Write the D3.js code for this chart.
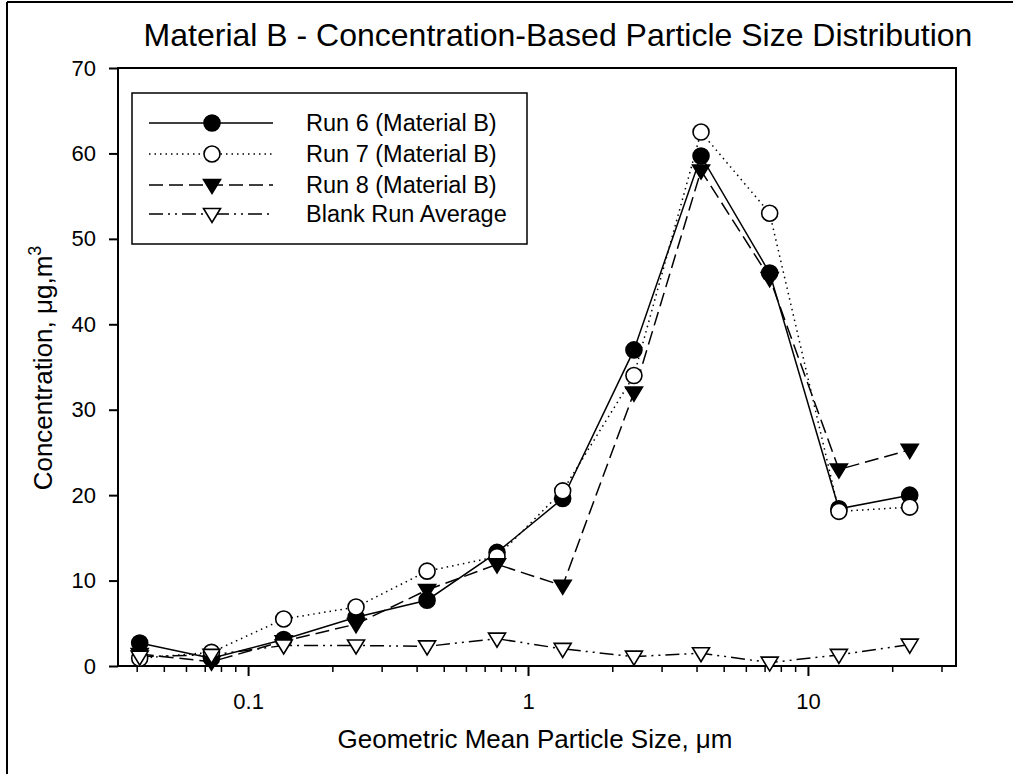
<!DOCTYPE html>
<html><head><meta charset="utf-8">
<script src="https://cdn.jsdelivr.net/npm/d3@7"></script>
<style>body{margin:0;background:#fff}svg{display:block}text{font-family:"Liberation Sans",Arial,sans-serif;fill:#000}</style>
</head><body>
<svg id="c" width="1013" height="774"></svg>
<script>
const sizes = [0.041, 0.074, 0.134, 0.243, 0.436, 0.775, 1.33, 2.39, 4.15, 7.3, 12.9, 23.1];
const run6  = [2.7, 0.9, 3.1, 5.7, 7.7, 13.3, 19.6, 37.0, 59.7, 46.0, 18.4, 20.0];
const run7  = [0.9, 1.6, 5.5, 6.9, 11.1, 12.8, 20.5, 34.0, 62.5, 53.0, 18.1, 18.6];
const run8  = [1.4, 0.5, 2.9, 4.9, 8.9, 11.9, 9.4, 32.0, 58.0, 45.4, 23.0, 25.3];
const blank = [1.1, 1.3, 2.4, 2.4, 2.3, 3.2, 2.0, 1.1, 1.5, 0.4, 1.3, 2.5];
const seriesNames = ["Run 6 (Material B)", "Run 7 (Material B)", "Run 8 (Material B)", "Blank Run Average"];
const yTicks = [0, 10, 20, 30, 40, 50, 60, 70];
const xTicks = [0.1, 1, 10];

const FONT = '"Liberation Sans",Arial,sans-serif';
const svg = d3.select("#c");
const L = 118, R = 956, T = 68, B = 666;
const x = d3.scaleLog().domain([0.0343, 33.8]).range([L, R]);
const y = d3.scaleLinear().domain([0, 70]).range([B, T]);

// outer frame (left and top edges visible)
svg.append("line").attr("x1", 7).attr("x2", 7).attr("y1", 2).attr("y2", 774).attr("stroke", "#000").attr("stroke-width", 2);
svg.append("line").attr("x1", 7).attr("x2", 1013).attr("y1", 2).attr("y2", 2).attr("stroke", "#000").attr("stroke-width", 2);

// title
svg.append("text").attr("x", 558).attr("y", 46).attr("text-anchor", "middle").attr("font-size", 32)
  .text("Material B - Concentration-Based Particle Size Distribution");

// plot frame
svg.append("rect").attr("x", L).attr("y", T).attr("width", R - L).attr("height", B - T)
  .attr("fill", "none").attr("stroke", "#000").attr("stroke-width", 2);

// y axis
const yAxis = d3.axisLeft(y).tickValues(yTicks).tickSize(9).tickPadding(13).tickFormat(d3.format("d"));
const gy = svg.append("g").attr("transform", `translate(${L},0)`).call(yAxis);
gy.select(".domain").remove();
gy.selectAll(".tick line").attr("stroke-width", 2);
gy.selectAll(".tick text").attr("font-size", 22).style("font-family", FONT);

// x axis minor + major
const minor = [];
[0.01, 0.1, 1, 10].forEach(d => { for (let k = 2; k <= 9; k++) { const v = d * k; if (v >= 0.0343 && v <= 33.8) minor.push(v); } });
const gxm = svg.append("g").attr("transform", `translate(0,${B})`)
  .call(d3.axisBottom(x).tickValues(minor).tickSize(6).tickFormat(""));
gxm.select(".domain").remove();
gxm.selectAll(".tick line").attr("stroke-width", 1.5);
const gx = svg.append("g").attr("transform", `translate(0,${B})`)
  .call(d3.axisBottom(x).tickValues(xTicks).tickSize(10).tickPadding(17).tickFormat(d => d3.format("")(d)));
gx.select(".domain").remove();
gx.selectAll(".tick line").attr("stroke-width", 2);
gx.selectAll(".tick text").attr("font-size", 22).style("font-family", FONT);

// axis labels
svg.append("text").attr("x", 535).attr("y", 748).attr("text-anchor", "middle").attr("font-size", 26)
  .text("Geometric Mean Particle Size, μm");
const yl = svg.append("text").attr("transform", "translate(52,368) rotate(-90)").attr("text-anchor", "middle").attr("font-size", 26);
yl.append("tspan").text("Concentration, μg,m");
yl.append("tspan").attr("dy", -11).attr("font-size", 18).text("3");

// series
const styles = [
  {data: run6, dash: null, marker: "circle", fill: "#000"},
  {data: run7, dash: "1.5,4", marker: "circle", fill: "#fff"},
  {data: run8, dash: "14,6", marker: "tri", fill: "#000"},
  {data: blank, dash: "14,5,2,5,2,5", marker: "tri", fill: "#fff"}
];
const line = d3.line().x((d, i) => x(sizes[i])).y(d => y(d));
const triPath = (cx, cy) => `M${cx - 8.5},${cy - 5.5}L${cx + 8.5},${cy - 5.5}L${cx},${cy + 8.5}Z`;
function drawMarker(g, m, fill, cx, cy) {
  if (m === "circle") g.append("circle").attr("cx", cx).attr("cy", cy).attr("r", 8).attr("fill", fill).attr("stroke", "#000").attr("stroke-width", 1.6);
  else g.append("path").attr("d", triPath(cx, cy)).attr("fill", fill).attr("stroke", "#000").attr("stroke-width", 1.6).attr("stroke-linejoin", "miter");
}
styles.forEach(s => {
  svg.append("path").attr("d", line(s.data)).attr("fill", "none").attr("stroke", "#000").attr("stroke-width", 1.5)
    .attr("stroke-dasharray", s.dash);
});
styles.forEach(s => {
  const g = svg.append("g");
  s.data.forEach((v, i) => drawMarker(g, s.marker, s.fill, x(sizes[i]), y(v)));
});

// legend
svg.append("rect").attr("x", 132).attr("y", 93).attr("width", 395).attr("height", 151)
  .attr("fill", "#fff").attr("stroke", "#000").attr("stroke-width", 1.5);
const rowsY = [123, 154, 185, 214];
styles.forEach((s, i) => {
  const g = svg.append("g");
  g.append("line").attr("x1", 149).attr("x2", 273).attr("y1", rowsY[i]).attr("y2", rowsY[i])
    .attr("stroke", "#000").attr("stroke-width", 1.5).attr("stroke-dasharray", s.dash);
  drawMarker(g, s.marker, s.fill, 212, rowsY[i]);
  g.append("text").attr("x", 306).attr("y", rowsY[i] + 8).attr("font-size", 23.5).text(seriesNames[i]);
});
</script>
</body></html>
